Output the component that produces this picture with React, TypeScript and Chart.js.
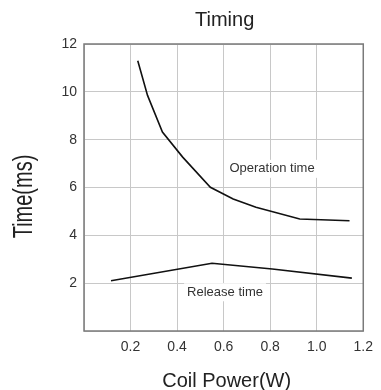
import React, { useEffect, useRef } from "react";
import { Chart, registerables } from "chart.js";

Chart.register(...registerables);

// ---- data ----
const opPower = [0.231, 0.273, 0.337, 0.424, 0.543, 0.641, 0.739, 0.927, 1.141];
const opTime = [11.3, 9.85, 8.32, 7.27, 6.01, 5.52, 5.17, 4.68, 4.61];
const relPower = [0.116, 0.55, 0.809, 1.151];
const relTime = [2.1, 2.83, 2.59, 2.21];
const xTickValues = [0, 0.2, 0.4, 0.6, 0.8, 1.0, 1.2];
const yTickValues = [0, 2, 4, 6, 8, 10, 12];
const seriesNames = ["Operation time", "Release time"];
const labelX = [0.808, 0.606];
const labelY = [6.78, 1.62];
const chartTitle = "Timing";
const xTitle = "Coil Power(W)";
const yTitle = "Time(ms)";

const FONT = "'Liberation Sans', Arial, sans-serif";

const decorPlugin = {
  id: "decor",
  beforeDatasetsDraw(chart: any) {
    const { ctx, chartArea } = chart;
    ctx.save();
    ctx.strokeStyle = "#7a7a7a";
    ctx.lineWidth = 1.5;
    ctx.strokeRect(chartArea.left, chartArea.top, chartArea.right - chartArea.left, chartArea.bottom - chartArea.top);
    ctx.restore();
  },
  afterDatasetsDraw(chart: any) {
    const { ctx, chartArea, scales } = chart;
    ctx.save();
    // series labels with white background
    ctx.font = `13px ${FONT}`;
    ctx.textAlign = "center";
    ctx.textBaseline = "middle";
    seriesNames.forEach((name, i) => {
      const px = scales.x.getPixelForValue(labelX[i]);
      const py = scales.y.getPixelForValue(labelY[i]);
      const w = ctx.measureText(name).width;
      ctx.fillStyle = "#ffffff";
      ctx.fillRect(px - w / 2 - 3, py - 9, w + 6, 18);
      ctx.fillStyle = "#333333";
      ctx.fillText(name, px, py);
    });
    // chart title
    const cx = (chartArea.left + chartArea.right) / 2;
    ctx.fillStyle = "#222222";
    ctx.font = `20px ${FONT}`;
    ctx.textBaseline = "alphabetic";
    ctx.textAlign = "center";
    ctx.fillText(chartTitle, cx + 1, 26);
    // x title
    ctx.fillText(xTitle, cx + 3, 387);
    // y title
    const cy = (chartArea.top + chartArea.bottom) / 2 + 9;
    ctx.translate(31.5, cy);
    ctx.scale(1.4, 1);
    ctx.rotate(-Math.PI / 2);
    ctx.fillText(yTitle, 0, 0);
    ctx.restore();
  },
};

export default function App() {
  const ref = useRef<HTMLCanvasElement | null>(null);
  useEffect(() => {
    document.body.style.margin = "0";
    if (!ref.current) return;
    const chart = new Chart(ref.current, {
      type: "scatter",
      data: {
        datasets: [
          {
            label: seriesNames[0],
            data: opPower.map((x, i) => ({ x, y: opTime[i] })),
            showLine: true,
            borderColor: "#111111",
            borderWidth: 1.6,
            pointRadius: 0,
            tension: 0,
            fill: false,
          },
          {
            label: seriesNames[1],
            data: relPower.map((x, i) => ({ x, y: relTime[i] })),
            showLine: true,
            borderColor: "#111111",
            borderWidth: 1.6,
            pointRadius: 0,
            tension: 0,
            fill: false,
          },
        ],
      },
      options: {
        animation: false,
        responsive: false,
        layout: { padding: { top: 44, right: 11, left: 0, bottom: 0 } },
        plugins: {
          legend: { display: false },
          title: { display: false },
          tooltip: { enabled: false },
        },
        scales: {
          x: {
            type: "linear",
            min: xTickValues[0],
            max: xTickValues[xTickValues.length - 1],
            afterBuildTicks: (s: any) => {
              s.ticks = xTickValues.map((v) => ({ value: v }));
            },
            afterFit: (s: any) => {
              s.height = 59;
            },
            ticks: {
              padding: 8,
              color: "#333333",
              font: { family: FONT, size: 14 },
              callback: (v: any) => (Number(v) === 0 ? "" : Number(v).toFixed(1)),
            },
            grid: { color: "#c8c8c8", lineWidth: 1, drawTicks: false },
            border: { display: false },
          },
          y: {
            type: "linear",
            min: yTickValues[0],
            max: yTickValues[yTickValues.length - 1],
            afterBuildTicks: (s: any) => {
              s.ticks = yTickValues.map((v) => ({ value: v }));
            },
            afterFit: (s: any) => {
              s.width = 84;
            },
            ticks: {
              padding: 7,
              color: "#333333",
              font: { family: FONT, size: 14 },
              callback: (v: any) => (Number(v) === 0 ? "" : String(v)),
            },
            grid: { color: "#c8c8c8", lineWidth: 1, drawTicks: false },
            border: { display: false },
          },
        },
      },
      plugins: [decorPlugin],
    });
    return () => chart.destroy();
  }, []);
  return (
    <div style={{ width: 381, height: 390 }}>
      <canvas ref={ref} width={381} height={390} style={{ display: "block" }} />
    </div>
  );
}
